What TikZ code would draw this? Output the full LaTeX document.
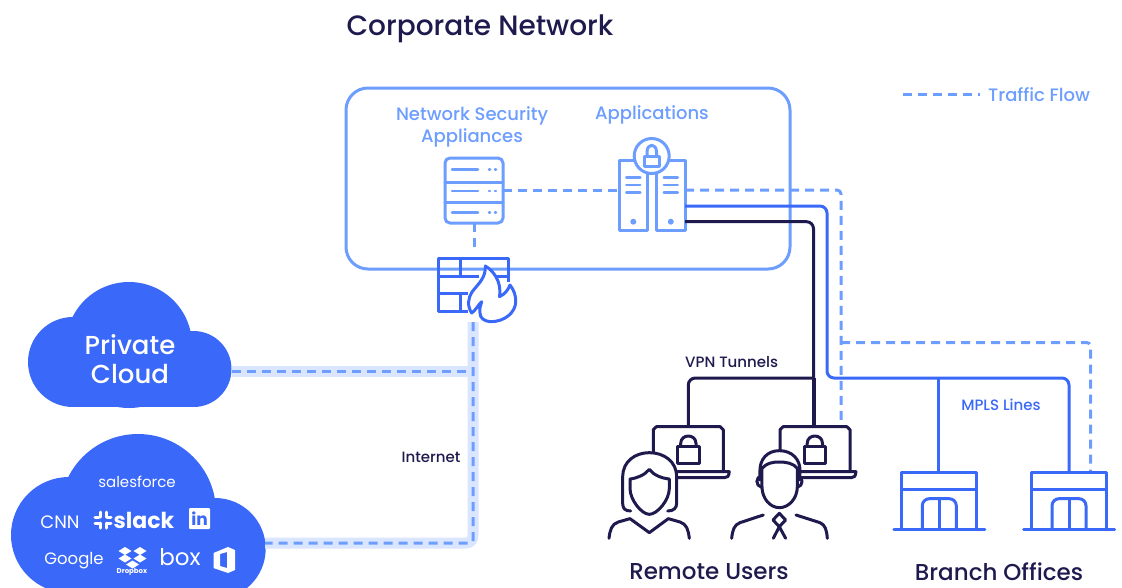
\documentclass[tikz,border=0pt]{standalone}
\usepackage{xcolor}
\usepackage{fontspec}
\usepackage{tikz}
\setmainfont{Poppins}
\newfontfamily\medfont{Poppins Medium}
\definecolor{navy}{HTML}{1E1A4E}
\definecolor{royal}{HTML}{3A68F8}
\definecolor{sky}{HTML}{6C9DFF}
\definecolor{haze}{HTML}{DAE6FF}
\usetikzlibrary{arrows}

\begin{document}
\begin{tikzpicture}[x=1pt,y=-1pt,line join=round,
    iconbox/.style={inner sep=0pt,outer sep=0pt,minimum width=#1},
    label/.style={inner sep=0pt,align=center,font=\fontsize{18}{22}\selectfont\medfont,text=sky},
    heading/.style={inner sep=0pt,font=\fontsize{23}{26}\selectfont\medfont,text=navy},
    small/.style={inner sep=0pt,font=\fontsize{15}{17}\selectfont\medfont},
    logo/.style={inner sep=0pt,text=white},
    flow/.style={draw=sky,line width=3pt,dash pattern=on 9pt off 6pt},
    band/.style={draw=haze,line width=11pt,rounded corners=7pt},
    mpls/.style={draw=royal,line width=3pt,rounded corners=7pt},
    vpn/.style={draw=navy,line width=3pt,rounded corners=7pt},
    lightline/.style={draw=sky,line width=3pt,line cap=round},
    person/.style={draw=navy,line width=3pt,line cap=round},
    zoomed/.style 2 args={shift={(#1,#2)},x=0.3333pt,y=-0.3333pt},
    lock/.pic={
      \draw[navy,line width=3pt] (0,10.7) rectangle (21.3,27.3);
      \draw[navy,line width=3pt] (3,10.7) -- (3,7.5) .. controls (3,-2.5) and (18.3,-2.5) .. (18.3,7.5) -- (18.3,10.7);
    },
    laptop/.pic={
      \draw[person] (0,45) -- (0,3) -- (3,0) -- (67,0) -- (70,3) -- (70,45);
      \draw[person] (0,45) -- (76,45) .. controls (75.5,50) and (74,51) .. (71,51) -- (0,51);
    },
    branch/.pic={
      \draw[mpls,rounded corners=0pt] (-37.5,56.5) -- (-37.5,0) -- (37.5,0) -- (37.5,56.5);
      \draw[mpls,rounded corners=0pt] (-37.5,16.5) -- (37.5,16.5);
      \draw[mpls,rounded corners=0pt,line cap=round] (-45.5,56.5) -- (45.5,56.5);
      \draw[mpls] (-17,56.5) -- (-17,26) -- (17,26) -- (17,56.5);
      \draw[mpls] (0,26) -- (0,56.5);
    }]
  \useasboundingbox (0,0) rectangle (1122,587);

  \node[inner sep=0pt,font=\fontsize{28}{30}\selectfont\medfont,text=navy] (title) at (480,29) {Corporate Network};
  \node[iconbox=444,minimum height=181,draw=sky,line width=3pt,rounded corners=22pt] (corp) at (568,178.5) {};
  \node[label] (nsa) at (472,126.5) {Network Security\\Appliances};
  \node[label] (apps) at (652,115) {Applications};

  \coordinate (legenda) at (903,94);
  \coordinate (legendb) at (980,94);
  \draw[flow] (legenda) -- (legendb);
  \node[label,anchor=west] (traffic) at (988,95) {Traffic Flow};

  % clouds
  \node[iconbox=205,minimum height=125] (private) at (130,345) {};
  \fill[royal] (73,362) circle (45);
  \fill[royal] (129,345) circle (63);
  \fill[royal] (193.5,369) circle (38);
  \fill[royal] (73,340) rectangle (193,407);
  \begin{scope}
    \clip (0,0) rectangle (1122,587);
    \fill[royal] (69,535) circle (58);
    \fill[royal] (138,512) circle (78);
    \fill[royal] (215,548.7) circle (50.7);
    \fill[royal] (69,500) rectangle (215,600);
  \end{scope}
  \node[iconbox=255,minimum height=153] (saas) at (138,510) {};
  \node[logo,align=center,font=\fontsize{26}{29}\selectfont\medfont] (privatetext) at (130,359) {Private\\Cloud};

  \node[logo,font=\fontsize{15}{17}\selectfont] (salesforce) at (137,482) {salesforce};
  \node[logo,font=\fontsize{18}{20}\selectfont] (cnn) at (60,522) {CNN};
  \node[logo,font=\fontsize{22}{24}\selectfont\bfseries] (slack) at (144,520) {slack};
  \foreach \i in {100,106}{
    \draw[white,line width=3pt,line cap=round] (\i,512) -- (\i,517);
    \draw[white,line width=3pt,line cap=round] (\i,523) -- (\i,528);
  }
  \foreach \i in {517,523}{
    \draw[white,line width=3pt,line cap=round] (95,\i) -- (99,\i);
    \draw[white,line width=3pt,line cap=round] (107,\i) -- (111,\i);
  }
  \node[iconbox=21,minimum height=21,fill=white,rounded corners=1pt,text=royal,font=\fontsize{17}{17}\selectfont\bfseries] (linkedin) at (199.5,518.5) {in};
  \node[logo,font=\fontsize{16.5}{20}\selectfont] (google) at (74,561) {Google};
  \foreach \i/\j in {125/551,140/551,125/558.5,140/558.5,132.5/564.5}{
    \fill[white] (\i-6.5,\j) -- (\i,\j-4) -- (\i+6.5,\j) -- (\i,\j+4) -- cycle;
  }
  \node[logo,font=\fontsize{7}{8}\selectfont\bfseries] (dropbox) at (132,572) {Dropbox};
  \node[logo,font=\fontsize{23}{28}\selectfont] (box) at (180,557) {box};
  \fill[white,even odd rule] (213.5,553) -- (228,547) -- (235,550) -- (235,570) -- (228,573) -- (213.5,568) -- cycle (220,554) -- (227,552) -- (227,568) -- (220,566) -- cycle;

  % internet
  \coordinate (cloudone) at (232,371);
  \coordinate (cloudtwo) at (265,543);
  \coordinate (wallfoot) at (473,322);
  \coordinate (joinone) at (473,371);
  \draw[band] (wallfoot) -- (473,543) -- (cloudtwo);
  \draw[band] (cloudone) -- (joinone);
  \draw[flow,rounded corners=3pt] (wallfoot) -- (473,543) -- (cloudtwo);
  \draw[flow] (cloudone) -- (joinone);
  \node[small,text=navy] (internet) at (431,457) {Internet};

  % appliances
  \node[iconbox=58,minimum height=65,draw=sky,line width=3pt,rounded corners=5pt] (appliance) at (474,190.5) {};
  \foreach \i in {182,202}{
    \draw[lightline] (445,\i) -- (503,\i);
  }
  \foreach \i in {169.5,191,212.5}{
    \draw[lightline,line width=2.5pt] (452,\i) -- (478,\i);
    \draw[lightline,line width=2.5pt] (489,\i) -- (490,\i);
    \draw[lightline,line width=2.5pt] (495,\i) -- (496,\i);
  }

  % servers
  \node[iconbox=28.5,minimum height=70.5,draw=sky,line width=3pt] (servera) at (633.3,195.3) {};
  \node[iconbox=28.5,minimum height=70.5,draw=sky,line width=3pt] (serverb) at (670.8,195.3) {};
  \foreach \i in {633.3,670.8}{
    \foreach \j in {177.7,185,192.7}{
      \draw[lightline,line width=2.5pt] (\i-7,\j) -- (\i+7,\j);
    }
    \fill[sky] (\i,221.7) circle (3);
  }
  \node[iconbox=35,minimum height=35,circle,draw=sky,fill=white,line width=3pt] (seal) at (651.7,156) {};
  \draw[sky,line width=3pt] (644,156.5) rectangle (659.5,166);
  \draw[sky,line width=3pt] (647,156.5) -- (647,152) .. controls (647,143) and (656.5,143) .. (656.5,152) -- (656.5,156.5);

  % lines
  \coordinate (flowout) at (685,190);
  \coordinate (mplsout) at (685,206);
  \coordinate (vpnout) at (685,221.7);
  \coordinate (vpnjoin) at (813.5,378);
  \coordinate (mplsjoin) at (938,378);
  \coordinate (flowjoin) at (841,342.5);
  \node[iconbox=70,minimum height=45,anchor=north west] (laptopa) at (653.3,426.7) {};
  \node[iconbox=70,minimum height=45,anchor=north west] (laptopb) at (780,426.7) {};
  \node[iconbox=75,minimum height=56.5,anchor=north] (brancha) at (939.3,472.7) {};
  \node[iconbox=75,minimum height=56.5,anchor=north] (branchb) at (1069,472.7) {};
  \coordinate (flowend) at (841,424);
  \coordinate (flowbranch) at (1090.7,472.7);

  \draw[mpls] (mplsout) -- (827,206) -- (827,378) -- (1069,378) -- (branchb.north);
  \draw[mpls] (mplsjoin) -- (mplsjoin|-brancha.north);
  \draw[vpn] (vpnout) -- (813.5,221.7) -- (vpnjoin);
  \draw[vpn,line width=4pt] (vpnjoin) -- (laptopb.north-|vpnjoin);
  \draw[vpn] (vpnjoin) -- (laptopa.north|-vpnjoin) -- (laptopa.north);

  \draw[flow] (appliance.east) -- (servera.west|-appliance.east);
  \draw[flow] (appliance.south) -- (474,251);
  \draw[flow,rounded corners=4pt] (flowout) -- (841,190) -- (flowend);
  \draw[flow,rounded corners=4pt] (flowjoin) -- (1090.7,342.5) -- (flowbranch);

  \node[small,text=navy] (vpntext) at (731.7,362.5) {VPN Tunnels};
  \node[small,text=royal] (mplstext) at (1001,405) {MPLS Lines};

  % firewall
  \node[iconbox=71,minimum height=53,anchor=north west] (firewall) at (438,258) {};
  \draw[mpls,rounded corners=0pt] (479,276) -- (438,276) -- (438,258) -- (508,258) -- (508,282);
  \draw[mpls,rounded corners=0pt] (438,276) -- (438,311) -- (468,311);
  \draw[mpls,rounded corners=0pt] (438,293) -- (468,293);
  \draw[mpls,rounded corners=0pt] (490,276) -- (508,276);
  \draw[mpls,rounded corners=0pt] (460,258) -- (460,276);
  \draw[mpls,rounded corners=0pt] (460,293) -- (460,311);
  \draw[mpls,rounded corners=0pt,fill=white] (485.3,266) .. controls (492,270) and (502,280) .. (499.5,296.7)
    .. controls (505,294) and (508,290) .. (510,285) .. controls (514,290) and (516,296) .. (515.7,302)
    .. controls (515.5,312) and (505,322) .. (490,321.7) .. controls (484,321) and (480,318) .. (480,313)
    .. controls (479,308) and (481,305) .. (481.7,301.7) .. controls (478,305) and (476,310) .. (471.7,313)
    .. controls (467,306) and (468,298) .. (472,292) .. controls (478,284) and (486,278) .. (485.3,266) -- cycle;

  % people and laptops
  \pic at (653.3,426.7) {laptop};
  \pic at (780,426.7) {laptop};
  \pic at (677.7,436) {lock};
  \pic at (804.2,436) {lock};
  \begin{scope}[zoomed={590}{380}]
    \filldraw[person,fill=white] (122,393) .. controls (105,393) and (98,385) .. (98,370) -- (98,290) .. controls (98,245) and (135,218) .. (178,218) .. controls (222,218) and (260,245) .. (260,290) -- (260,370) .. controls (260,385) and (250,393) .. (233,393);
    \draw[person] (178,268) .. controls (165,285) and (140,295) .. (120,297) -- (120,325) .. controls (120,360) and (155,403) .. (178,403) .. controls (202,403) and (238,360) .. (238,325) -- (238,297) .. controls (215,295) and (190,285) .. (178,268) -- cycle;
    \draw[person] (57,475) .. controls (60,450) and (65,432) .. (85,426) -- (120,416) -- (178,458) -- (235,416) -- (270,426) .. controls (290,432) and (295,450) .. (298,475);

    \filldraw[person,fill=white] (510,300) -- (510,270) .. controls (510,240) and (530,212) .. (568,212) .. controls (608,212) and (630,240) .. (630,270) -- (630,300);
    \fill[white] (512,290) rectangle (628,345);
    \filldraw[person,fill=white] (516,265) -- (516,320) .. controls (516,355) and (540,383) .. (568,383) .. controls (597,383) and (622,355) .. (622,320) -- (622,265);
    \draw[person] (516,265) .. controls (530,250) and (545,246) .. (568,246) .. controls (590,246) and (610,250) .. (622,265);
    \draw[person] (515,288) .. controls (496,290) and (496,318) .. (515,322);
    \draw[person] (622,288) .. controls (641,290) and (641,318) .. (622,322);
    \draw[person] (425,475) .. controls (428,450) and (432,435) .. (450,428) -- (520,405);
    \draw[person] (618,405) -- (690,428) .. controls (706,435) and (710,450) .. (712,475);
    \draw[person] (568,400) -- (587,420) -- (568,440) -- (549,420) -- cycle;
    \draw[person] (568,440) -- (550,475) (568,440) -- (587,475);
  \end{scope}

  % branches
  \pic at (939.3,472.7) {branch};
  \pic at (1069,472.7) {branch};

  \node[heading] (remote) at (709,572) {Remote Users};
  \node[heading] (offices) at (999,572) {Branch Offices};
\end{tikzpicture}
\end{document}
